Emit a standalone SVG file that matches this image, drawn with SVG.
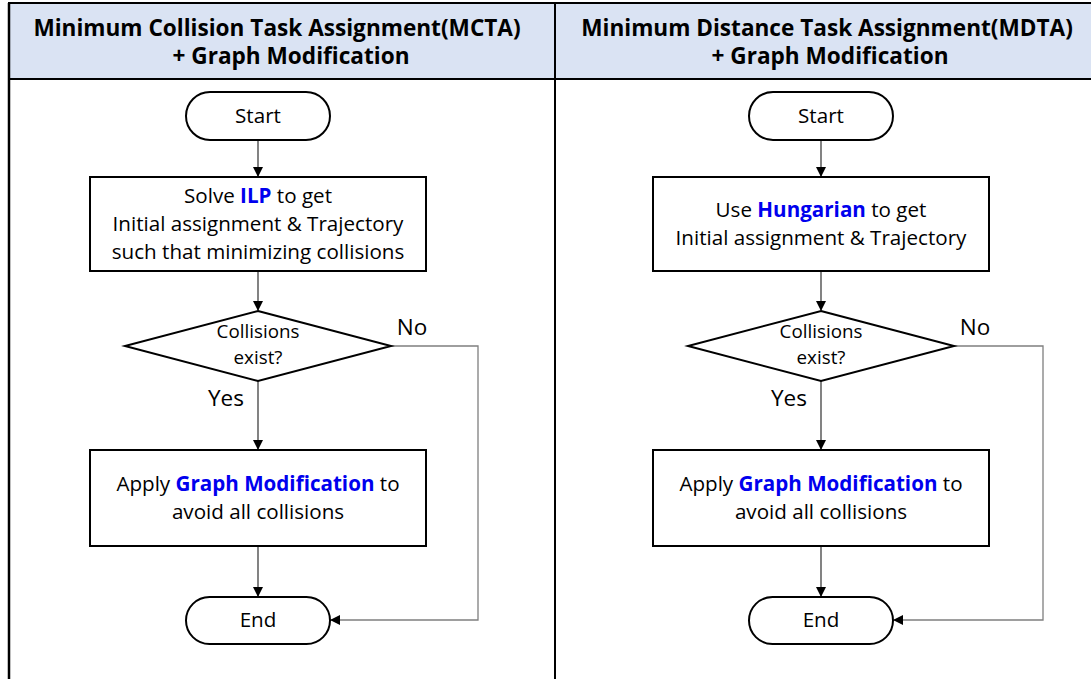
<svg xmlns="http://www.w3.org/2000/svg" width="1091" height="679" viewBox="0 0 1091 679">
<style>
.t{font-family:"Open Sans","Noto Sans",sans-serif;font-size:20.6px;fill:#000;text-anchor:middle}
.d{font-family:"Open Sans","Noto Sans",sans-serif;font-size:18.8px;fill:#000;text-anchor:middle}
.lb{font-family:"Open Sans","Noto Sans",sans-serif;font-size:22.5px;fill:#000;text-anchor:middle}
.h{font-family:"Open Sans","Noto Sans",sans-serif;font-size:22.6px;font-weight:bold;fill:#000;text-anchor:middle}
.b{font-weight:bold;fill:#0000ee}
.shape{fill:#fff;stroke:#000;stroke-width:2}
.c{fill:none;stroke:#404040;stroke-width:1.3}
.n{fill:none;stroke:#7f7f7f;stroke-width:1.3}
</style>
<defs>
<marker id="ah" markerWidth="10" markerHeight="10" refX="9" refY="5" orient="auto" markerUnits="userSpaceOnUse">
<path d="M0,0 L10,5 L0,10 z" fill="#000"/>
</marker>
</defs>
<rect x="0" y="0" width="1091" height="679" fill="#fff"/>
<g id="frame">
<rect x="8" y="3" width="1090" height="76" fill="#dae3f3"/>
<line x1="8" y1="3" x2="1091" y2="3" stroke="#000" stroke-width="2"/>
<line x1="8" y1="79" x2="1091" y2="79" stroke="#000" stroke-width="2"/>
<line x1="9" y1="3" x2="9" y2="679" stroke="#000" stroke-width="2.5"/>
<line x1="555" y1="3" x2="555" y2="679" stroke="#000" stroke-width="2"/>
<text class="h" x="277" y="36">Minimum Collision Task Assignment(MCTA)</text>
<text class="h" x="291" y="64">+ Graph Modification</text>
<text class="h" x="827" y="36">Minimum Distance Task Assignment(MDTA)</text>
<text class="h" x="830" y="64">+ Graph Modification</text>
</g>
<g id="connectors">
<line class="c" x1="258" y1="140" x2="258" y2="176" marker-end="url(#ah)"/>
<line class="c" x1="258" y1="271" x2="258" y2="310" marker-end="url(#ah)"/>
<line class="c" x1="258" y1="381" x2="258" y2="449" marker-end="url(#ah)"/>
<line class="c" x1="258" y1="546" x2="258" y2="596" marker-end="url(#ah)"/>
<polyline class="n" points="391,346 478,346 478,620 331,620" marker-end="url(#ah)"/>
<line class="c" x1="821" y1="140" x2="821" y2="176" marker-end="url(#ah)"/>
<line class="c" x1="821" y1="271" x2="821" y2="310" marker-end="url(#ah)"/>
<line class="c" x1="821" y1="381" x2="821" y2="449" marker-end="url(#ah)"/>
<line class="c" x1="821" y1="546" x2="821" y2="596" marker-end="url(#ah)"/>
<polyline class="n" points="954,346 1043,346 1043,620 894,620" marker-end="url(#ah)"/>
<text class="lb" x="412" y="335">No</text>
<text class="lb" x="226" y="406">Yes</text>
<text class="lb" x="975" y="335">No</text>
<text class="lb" x="789" y="406">Yes</text>
</g>
<g id="l-start">
<rect class="shape" x="186" y="92" width="144" height="48" rx="24"/>
<text class="t" x="258" y="123">Start</text>
</g>
<g id="l-ilp">
<rect class="shape" x="90" y="177" width="336" height="94"/>
<text class="t" x="258" y="203">Solve <tspan class="b">ILP</tspan> to get</text>
<text class="t" x="258" y="231">Initial assignment &amp; Trajectory</text>
<text class="t" x="258" y="259">such that minimizing collisions</text>
</g>
<g id="l-dec">
<polygon class="shape" points="258,311 391,346 258,381 125,346"/>
<text class="d" x="258" y="338">Collisions</text>
<text class="d" x="258" y="364">exist?</text>
</g>
<g id="l-gm">
<rect class="shape" x="90" y="450" width="336" height="96"/>
<text class="t" x="258" y="491">Apply <tspan class="b">Graph Modification</tspan> to</text>
<text class="t" x="258" y="519">avoid all collisions</text>
</g>
<g id="l-end">
<rect class="shape" x="186" y="597" width="144" height="47" rx="23.5"/>
<text class="t" x="258" y="627">End</text>
</g>
<g id="r-start">
<rect class="shape" x="749" y="92" width="144" height="48" rx="24"/>
<text class="t" x="821" y="123">Start</text>
</g>
<g id="r-hung">
<rect class="shape" x="653" y="177" width="336" height="94"/>
<text class="t" x="821" y="217">Use <tspan class="b">Hungarian</tspan> to get</text>
<text class="t" x="821" y="245">Initial assignment &amp; Trajectory</text>
</g>
<g id="r-dec">
<polygon class="shape" points="821,311 954,346 821,381 688,346"/>
<text class="d" x="821" y="338">Collisions</text>
<text class="d" x="821" y="364">exist?</text>
</g>
<g id="r-gm">
<rect class="shape" x="653" y="450" width="336" height="96"/>
<text class="t" x="821" y="491">Apply <tspan class="b">Graph Modification</tspan> to</text>
<text class="t" x="821" y="519">avoid all collisions</text>
</g>
<g id="r-end">
<rect class="shape" x="749" y="597" width="144" height="47" rx="23.5"/>
<text class="t" x="821" y="627">End</text>
</g>
</svg>
